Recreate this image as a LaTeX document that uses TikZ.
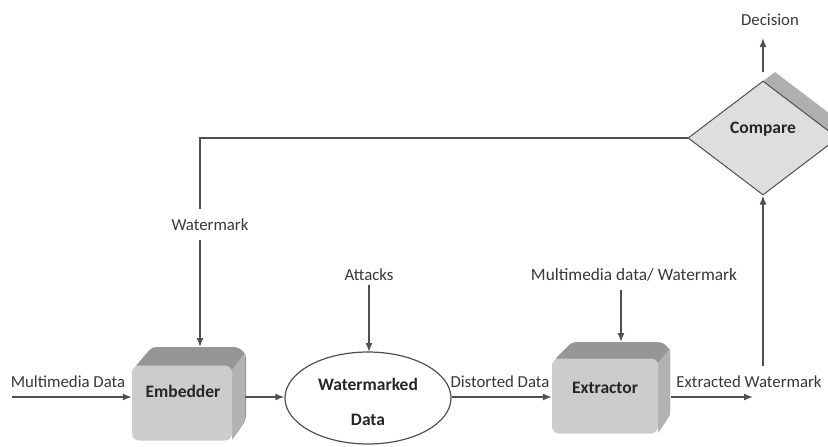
\documentclass[tikz,border=0pt]{standalone}
\usepackage{fontspec}
\setmainfont{Carlito}
\usetikzlibrary{arrows.meta,shapes.geometric}
\definecolor{linec}{RGB}{80,80,80}
\definecolor{txtc}{RGB}{55,55,65}
\definecolor{frontc}{RGB}{204,204,204}
\definecolor{topc}{RGB}{150,150,150}
\definecolor{sidec}{RGB}{178,178,178}
\definecolor{diafill}{RGB}{222,222,222}
\definecolor{diashadow}{RGB}{175,175,175}
\tikzset{
  lbl/.style={font=\fontsize{16.8}{18}\selectfont, text=txtc, inner sep=1pt},
  blbl/.style={font=\bfseries\fontsize{17.5}{19}\selectfont, text=black!85, inner sep=1pt},
  conn/.style={draw=linec, line width=1.4pt},
  arr/.style={conn, -{Latex[length=9pt,width=7pt]}},
  front/.style={fill=frontc, draw=none, rounded corners=7pt},
}
\begin{document}
\begin{tikzpicture}[x=1pt,y=-1pt]
\useasboundingbox (0,0) rectangle (828,447);
\clip (0,0) rectangle (828,447);
\fill[white] (0,0) rectangle (828,447);

% ---------- Embedder box ----------
\fill[topc, rounded corners=4pt] (134,368) -- (152,347) -- (238,347) -- (246,354) -- (246,420) -- (232,440) -- (232,368) -- cycle;
\fill[sidec] (232,370) -- (245,353) -- (245,421) -- (232,440) -- cycle;
\node[front, minimum width=100pt, minimum height=75pt] (emb) at (182,403) {};
\node[blbl] (embt) at (183,391) {Embedder};

% ---------- Extractor box ----------
\fill[topc, rounded corners=4pt] (554,360) -- (572,342) -- (662,342) -- (670,349) -- (670,414) -- (658,433) -- (658,360) -- cycle;
\fill[sidec] (658,363) -- (670,348) -- (670,415) -- (658,433) -- cycle;
\node[front, minimum width=106pt, minimum height=75pt] (ext) at (605,396) {};
\node[blbl] (extt) at (605,388) {Extractor};

% ---------- Watermarked data ellipse ----------
\node[ellipse, draw=linec, line width=1.2pt, fill=white, minimum width=166pt, minimum height=92pt] (wm) at (368,398) {};
\node[blbl] (wmt1) at (368,384) {Watermarked};
\node[blbl] (wmt2) at (368,420) {Data};

% ---------- Compare diamond ----------
\node[diamond, fill=diashadow, minimum width=150pt, minimum height=114pt, inner sep=0pt] (cmpsh) at (775,129) {};
\node[diamond, draw=linec, line width=1pt, fill=diafill, minimum width=150pt, minimum height=114pt, inner sep=0pt] (cmp) at (763,138) {};
\node[blbl] (cmpt) at (763,129) {Compare};

% ---------- Labels ----------
\node[lbl] (mmd) at (68,382) {Multimedia Data};
\coordinate (mmdstart) at (12,397);
\node[lbl] (att) at (369,275) {Attacks};
\node[lbl] (dist) at (500,382) {Distorted Data};
\node[lbl, font=\fontsize{17.3}{19}\selectfont] (mmw) at (634,275) {Multimedia data/ Watermark};
\node[lbl] (exw) at (749,382) {Extracted Watermark};
\node[lbl] (wmk) at (210,225) {Watermark};
\node[lbl] (dec) at (770,20) {Decision};

% ---------- Connectors ----------
\draw[arr] (mmdstart) -- (emb.west |- mmdstart);
\draw[arr] (245,397) -- (wm.west |- 0,397);
\draw[arr] (wm.east |- 0,397) -- (ext.west |- 0,397);
\draw[arr] (671,397) -- (753,397);
\draw[arr] (att.south) ++(0,3) -- (369,352);
\draw[arr] (621,290) -- (621,342);
\draw[conn] (763,366) -- (763,300);
\draw[arr] (763,300) -- (cmp.south);
\draw[arr] (763,72) -- (763,38);
\draw[conn] (cmp.west) -- (200,138) -- (200,209);
\draw[arr] (200,240) -- (200,347);
\end{tikzpicture}
\end{document}
